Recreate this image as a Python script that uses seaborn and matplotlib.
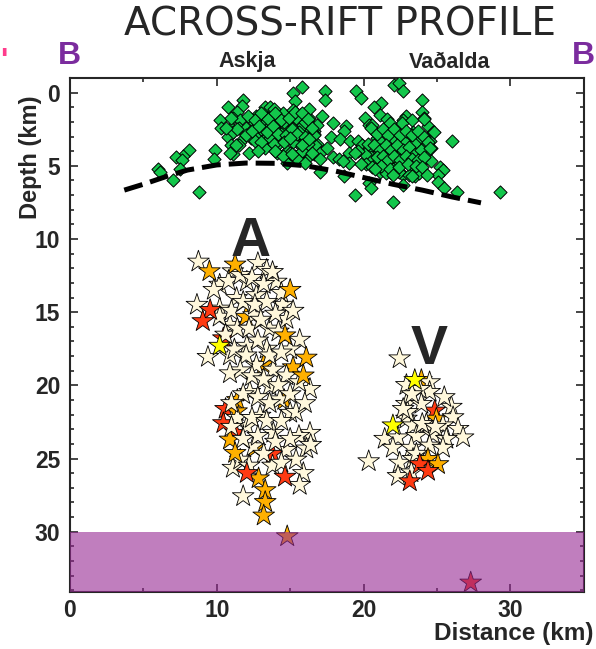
import numpy as np
import pandas as pd
import seaborn as sns
import matplotlib.pyplot as plt
from matplotlib.ticker import MultipleLocator

# shallow events (green diamonds): distance along profile (km) and depth (km)
shallow_km = [15.8, 15.2, 15.3, 11.8, 11.7, 10.8, 11.4, 10.2, 10.3, 11.1, 11.6, 11.5, 11.0, 10.8, 11.1,
              12.0, 12.7, 13.3, 13.6, 13.1, 13.5, 14.0, 12.5, 12.7, 13.4, 12.3, 11.6, 11.0, 11.5, 11.1,
              10.9, 9.9, 9.8, 8.1, 7.7, 7.2, 7.6, 7.5, 6.0, 6.1, 7.0, 8.8, 13.7, 14.1, 14.8,
              14.3, 14.8, 15.2, 14.8, 14.5, 15.2, 15.7, 16.1, 16.4, 15.9, 16.4, 15.4, 15.7, 16.1, 16.6,
              15.9, 15.3, 14.8, 16.1, 16.6, 16.8, 14.5, 14.3, 13.9, 15.2,
              17.4, 17.4, 19.5, 19.8, 22.1, 22.4, 22.7, 24.0, 21.2, 20.7, 20.1, 20.4, 21.1, 21.6, 24.0,
              24.1, 22.9, 22.7, 24.4, 24.7, 24.5, 26.0, 18.8, 18.7, 17.9, 17.8, 18.4, 19.1, 19.6, 19.9,
              20.4, 20.9, 21.2, 21.6, 22.0, 22.5, 22.9, 23.4, 23.5, 23.8, 24.2, 23.9, 23.4, 22.9, 22.5,
              22.0, 21.4, 21.0, 20.5, 20.1, 19.6, 20.2, 20.9, 21.6, 22.2, 23.2, 23.9, 24.6, 21.1, 21.9,
              22.7, 23.5, 20.4, 20.5, 22.7, 25.2, 25.4, 25.1, 25.1, 25.5, 26.4, 29.3, 19.4, 22.0, 17.0,
              18.7, 17.9, 18.3, 19.0, 19.0, 15.9, 16.3, 16.8, 17.2, 16.6, 16.1, 16.7, 17.0, 17.5, 16.3,
              15.9, 17.0,
              12.3, 12.8, 13.2, 13.6, 14.0, 14.4, 14.8, 15.2, 15.6, 16.0, 16.2, 15.0, 14.2, 13.6, 13.0,
              12.6, 12.0, 11.4, 11.0, 10.6, 13.9, 14.6, 15.4, 15.8, 16.6, 16.3, 13.3, 14.5, 15.5, 16.0,
              12.2, 11.3,
              20.8, 21.2, 21.6, 22.0, 22.4, 22.8, 23.2, 23.6, 24.0, 24.3, 21.0, 21.4, 21.8, 22.2, 22.6,
              23.0, 23.4, 23.8, 24.2, 24.6, 20.6, 21.5, 22.4, 23.1, 23.8, 20.3, 22.6, 23.3, 24.1, 21.8,
              24.8, 20.6, 19.4, 19.8, 18.6,
              20.5, 20.9, 21.3, 21.7, 22.1, 22.5, 22.9, 23.3, 23.7, 24.1,
              20.7, 21.1, 21.5, 21.9, 22.3, 22.7, 23.1, 23.5, 23.9, 24.4,
              20.9, 21.3, 21.7, 22.1, 22.5, 22.9, 23.3, 23.7, 24.1, 24.5,
              21.2, 21.8, 22.4, 23.0, 23.6, 24.0, 20.8, 22.0, 23.3, 24.3,
              12.1, 12.6, 13.0, 13.5, 14.0, 14.4, 14.9, 15.3, 15.8, 16.2,
              12.4, 12.9, 13.4, 13.8, 14.2, 14.7, 15.1, 15.5, 16.0, 16.5,
              13.0, 13.9, 14.6, 15.0, 15.8, 16.3, 14.0, 15.1, 16.5, 12.8]
shallow_depth = [-0.4, 0.0, 0.6, 0.5, 0.9, 1.0, 1.3, 1.9, 2.4, 1.7, 1.9, 2.4, 2.4, 3.0, 2.7,
                 2.4, 1.6, 1.0, 1.0, 1.8, 1.7, 1.6, 2.5, 3.0, 3.0, 3.1, 3.4, 3.6, 3.6, 4.2,
                 4.1, 3.9, 4.5, 3.9, 4.3, 4.4, 4.6, 5.2, 5.2, 5.4, 6.0, 6.8, 3.6, 4.1, 4.0,
                 3.3, 2.8, 2.4, 1.9, 1.4, 1.2, 1.5, 1.7, 2.2, 2.6, 3.2, 3.3, 3.6, 3.7, 4.2,
                 4.3, 4.3, 4.8, 2.8, 2.6, 3.5, 2.4, 1.9, 2.4, 3.1,
                 -0.1, 0.5, -0.1, 0.4, -0.5, -0.65, -0.1, 0.5, 0.7, 1.0, 1.7, 2.2, 1.5, 1.8, 1.3,
                 1.7, 1.6, 1.9, 2.3, 2.7, 3.3, 3.3, 2.3, 2.6, 2.1, 3.0, 3.2, 3.3, 3.3, 3.6,
                 3.8, 3.1, 2.7, 2.8, 2.4, 2.6, 2.8, 2.7, 3.5, 3.1, 3.3, 4.0, 4.3, 4.2, 4.0,
                 4.4, 4.2, 4.1, 4.4, 4.2, 4.0, 4.9, 4.8, 4.9, 5.0, 4.9, 4.8, 4.7, 5.4, 5.5,
                 5.6, 5.7, 6.2, 6.5, 6.3, 5.1, 5.3, 5.6, 6.1, 6.5, 6.8, 6.8, 7.0, 7.5, 5.4,
                 5.7, 4.4, 4.5, 4.1, 4.8, 2.2, 1.7, 2.2, 1.6, 2.8, 3.3, 3.6, 4.1, 3.8, 4.3,
                 4.0, 4.5,
                 1.8, 2.1, 1.9, 2.3, 2.5, 2.8, 3.1, 3.4, 2.7, 2.0, 3.5, 4.1, 3.5, 3.1, 2.5,
                 3.3, 2.9, 2.5, 1.7, 2.4, 1.1, 2.0, 1.7, 4.0, 2.9, 1.1, 3.8, 4.3, 4.5, 4.8,
                 4.1, 3.6,
                 2.7, 3.3, 2.9, 3.1, 2.8, 3.3, 2.9, 3.4, 3.1, 3.5, 4.3, 4.8, 4.0, 4.5, 4.1,
                 4.7, 4.3, 4.8, 4.2, 3.8, 5.1, 5.5, 5.4, 5.6, 5.5, 3.5, 2.1, 1.9, 1.8, 2.1,
                 2.7, 2.2, 4.1, 4.9, 4.7,
                 2.4, 2.8, 2.5, 2.9, 2.5, 2.9, 2.6, 2.9, 2.6, 3.0,
                 3.6, 3.9, 3.6, 3.9, 3.6, 3.9, 3.7, 4.2, 3.9, 3.4,
                 4.4, 4.3, 4.6, 4.3, 4.6, 4.3, 4.5, 4.6, 4.4, 3.8,
                 5.0, 5.2, 5.1, 4.9, 5.0, 5.1, 5.2, 5.6, 5.7, 5.6,
                 1.6, 1.9, 1.4, 1.8, 1.4, 1.9, 1.7, 1.3, 1.4, 1.8,
                 2.6, 2.3, 2.7, 2.3, 2.8, 2.9, 2.5, 2.8, 3.0, 2.4,
                 3.4, 3.5, 3.4, 3.1, 3.6, 3.2, 4.0, 4.2, 4.1, 4.0]

# deep events (stars), listed in drawing order
deep_km = [12.0, 13.2, 11.4, 14.6, 12.6, 15.2, 10.6, 13.8, 11.3, 10.45, 10.45, 11.35, 10.9,
           23.94, 24.85, 24.96, 14.8, 27.3,
           8.75, 11.1, 12.8, 13.4, 10.2, 12.05, 14.05, 8.65, 10.2, 11.35, 12.7, 14.5, 14.75, 10.9,
           12.5, 13.6, 15.65, 9.4, 10.9, 12.05, 13.4, 12.7, 13.85, 14.75, 16.35, 13.6, 12.25, 14.3,
           12.95, 15.0, 12.05, 16.35, 13.85, 16.1, 12.5, 14.75, 11.1, 15.9, 15.65, 11.8,
           9.8, 10.8, 11.6, 12.4, 13.2, 13.8, 14.4, 10.2, 11.0, 11.8, 12.6, 13.4, 14.0, 15.2,
           10.6, 11.4, 12.2, 13.0, 14.2, 15.0, 11.2, 12.0, 12.8, 13.6, 14.4, 11.6, 12.4, 13.2,
           14.2, 15.0, 15.6, 11.8, 12.8, 13.6, 15.4, 16.0, 11.4, 12.4, 13.4, 14.4, 15.6, 11.0,
           11.8, 12.8, 13.2, 14.0, 15.0, 15.4, 11.6, 12.2, 13.8, 14.4, 16.4, 11.0, 10.9,
           22.46, 20.35, 22.92, 24.5, 24.5, 23.83, 22.92, 23.94, 25.98, 26.1, 22.92, 23.37, 24.28,
           25.41, 26.44, 26.78, 21.44, 22.35, 23.6, 24.73, 25.64, 22.0, 23.26, 24.5, 25.41, 22.46,
           23.37, 22.35, 23.26, 23.0, 24.0, 23.6, 24.9, 22.7, 23.3, 25.5,
           9.5, 11.25, 15.0, 14.65, 16.1, 15.9, 12.85, 13.3, 13.3, 13.2, 11.25,
           9.55, 9.05, 12.05, 14.65, 10.2,
           23.49, 22.0, 24.39, 25.07, 23.83, 24.39, 23.15]
deep_depth = [15.32, 18.57, 21.01, 21.01, 24.27, 18.77, 21.62, 24.68, 23.25, 16.79, 22.59, 21.78, 23.71,
              19.64, 21.73, 22.28, 30.32, 33.48,
              11.55, 12.21, 11.65, 12.11, 13.13, 12.92, 12.92, 14.5, 14.76, 14.04, 13.84, 14.5, 15.47, 15.87,
              15.21, 16.13, 16.89, 18.06, 17.96, 17.3, 17.5, 18.62, 18.93, 19.33, 20.25, 20.05, 20.45, 20.96,
              22.08, 21.88, 22.79, 23.25, 23.25, 24.32, 24.17, 24.42, 25.64, 26.0, 26.81, 27.58,
              13.48, 12.87, 12.47, 12.67, 13.08, 12.26, 13.69, 15.31, 14.91, 14.3, 14.5, 14.3, 15.11, 14.91,
              16.54, 16.13, 16.13, 15.52, 16.33, 17.55, 17.55, 17.96, 16.94, 17.96, 17.76, 18.98, 19.38, 19.59,
              19.99, 20.61, 19.79, 20.61, 20.81, 21.22, 21.83, 21.22, 22.23, 22.23, 22.44, 22.44, 23.46, 22.84,
              23.66, 23.46, 24.68, 23.86, 23.66, 25.08, 25.08, 25.49, 25.49, 25.29, 24.07, 21.22, 19.18,
              18.16, 25.19, 19.98, 19.79, 20.45, 20.25, 21.27, 21.27, 21.47, 22.18, 22.28, 22.74, 22.64,
              22.74, 22.98, 23.56, 23.66, 23.56, 23.46, 23.35, 23.66, 24.27, 24.27, 24.12, 24.27, 25.29,
              25.03, 26.2, 25.95, 21.83, 22.64, 24.68, 22.84, 21.62, 20.61, 20.81,
              12.21, 11.75, 13.48, 16.59, 18.11, 19.33, 26.36, 27.17, 27.98, 28.9, 24.63,
              14.86, 15.62, 26.0, 26.25, 17.3,
              19.64, 22.74, 25.03, 25.39, 25.39, 25.85, 26.56]
deep_kind = (["orange"] * 6 + ["red"] * 5 + ["orange"] * 2
             + ["orange", "red", "orange", "orange", "red"]
             + ["cream"] * 40 + ["cream"] * 55
             + ["cream"] * 36
             + ["orange"] * 11 + ["red"] * 4 + ["yellow"]
             + ["yellow", "yellow", "orange", "orange", "red", "red", "red"])

# dashed boundary
line_km = [3.7, 5.0, 6.5, 8.0, 10.0, 12.0, 14.0, 16.0, 18.0, 20.0, 22.0, 24.0, 26.0, 28.0]
line_depth = [6.66, 6.26, 5.75, 5.29, 4.94, 4.81, 4.83, 4.99, 5.34, 5.8, 6.26, 6.66, 7.12, 7.53]

star_colors = {"cream": "#fff8dc", "orange": "#ffb000", "red": "#ff3a12", "yellow": "#ffff00"}

shallow = pd.DataFrame({"km": shallow_km, "depth": shallow_depth})
deep = pd.DataFrame({"km": deep_km, "depth": deep_depth, "kind": deep_kind})

sns.set_style("ticks")
plt.rcParams["font.family"] = ["Liberation Sans", "DejaVu Sans"]
plt.rcParams["font.weight"] = "bold"

fig = plt.figure(figsize=(5.96, 6.49), dpi=100)
ax = fig.add_axes([0.1174, 0.0883, 0.862, 0.7915])

sns.scatterplot(data=shallow, x="km", y="depth", marker="D", s=45, color="#13c64b",
                edgecolor="black", linewidth=0.7, ax=ax, zorder=3)
sns.lineplot(x=line_km, y=line_depth, sort=False, color="black", lw=3.6,
             linestyle=(0, (3.8, 1.6)), ax=ax, zorder=4)
sns.scatterplot(data=deep, x="km", y="depth", hue="kind", palette=star_colors, marker="*",
                s=270, edgecolor="black", linewidth=0.6, legend=False, ax=ax, zorder=5)

# mantle band
ax.axhspan(30, 34.1, color="#962893", alpha=0.6, lw=0, zorder=6)

ax.text(12.3, 11.14, "A", fontsize=40, fontweight="bold", ha="center", va="baseline", zorder=7)
ax.text(24.45, 18.57, "V", fontsize=40, fontweight="bold", ha="center", va="baseline", zorder=7)

ax.set_xlim(0, 35)
ax.set_ylim(34.1, -1.0)
ax.xaxis.set_major_locator(MultipleLocator(10))
ax.xaxis.set_minor_locator(MultipleLocator(5))
ax.yaxis.set_major_locator(MultipleLocator(5))
ax.yaxis.set_minor_locator(MultipleLocator(1))
ax.tick_params(which="both", direction="in", top=True, right=True, width=1.2, labelsize=16.5)
ax.tick_params(which="major", length=6)
ax.tick_params(which="minor", length=3)
ax.tick_params(axis="x", pad=5)
ax.tick_params(axis="y", pad=7)
for sp in ax.spines.values():
    sp.set_linewidth(1.5)

ax.set_xlabel("")
ax.set_ylabel("Depth (km)", fontsize=17, fontweight="bold")
ax.yaxis.set_label_coords(-0.054, 0.846)
fig.text(594 / 596, 1 - 640 / 649, "Distance (km)", fontsize=17.5, fontweight="bold",
         ha="right", va="baseline")

fig.text(340 / 596, 1 - 24 / 649, "ACROSS-RIFT PROFILE", fontsize=28, fontweight="normal",
         family="DejaVu Sans", ha="center", va="center")
fig.text(69 / 596, 1 - 56 / 649, "B", fontsize=23, fontweight="bold", color="#7b2c9e",
         ha="center", va="center")
fig.text(583 / 596, 1 - 56 / 649, "B", fontsize=23, fontweight="bold", color="#7b2c9e",
         ha="center", va="center")
fig.text(0.0, 1 - 62 / 649, "'", fontsize=22, fontweight="bold", color="#ff3c8c",
         ha="left", va="center")
fig.text(247 / 596, 1 - 62 / 649, "Askja", fontsize=15.5, fontweight="bold", ha="center", va="center")
fig.text(450 / 596, 1 - 62 / 649, "Vaðalda", fontsize=15.5, fontweight="bold", ha="center", va="center")

fig.savefig("out.png", dpi=100)
